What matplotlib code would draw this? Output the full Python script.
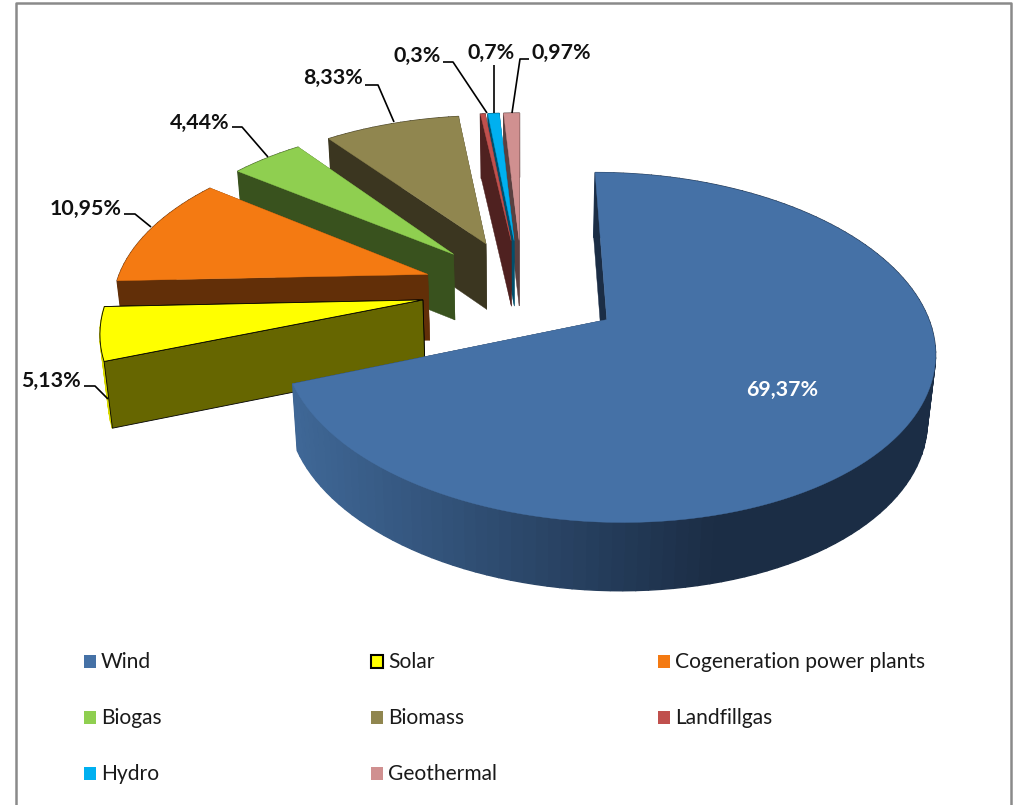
import numpy as np
import matplotlib as mpl
mpl.use('Agg')
import matplotlib.pyplot as plt
from matplotlib.patches import Polygon, Rectangle

categories = ['Wind', 'Solar', 'Cogeneration power plants', 'Biogas', 'Biomass',
              'Landfillgas', 'Hydro', 'Geothermal']
values = [69.37, 5.13, 10.95, 4.44, 8.33, 0.3, 0.7, 0.97]
value_labels = ['69,37%', '5,13%', '10,95%', '4,44%', '8,33%', '0,3%', '0,7%', '0,97%']

top_colors = ['#4571A6', '#FFFF00', '#F47A12', '#8FCF50', '#90864F', '#C0504D', '#00B0F0', '#D09090']
side_colors = ['#1B2D45', '#666600', '#622F08', '#39521E', '#3B3620', '#4F2120', '#004F6C', '#5A4040']
rim_colors = ['#1B2D45', '#D8D800', '#622F08', '#39521E', '#3B3620', '#4F2120', '#004F6C', '#5A4040']
wind_side_left = np.array(mpl.colors.to_rgb('#3F6796'))
wind_side_right = np.array(mpl.colors.to_rgb('#1B2D45'))

# pie geometry, in pixels of the 1013x805 picture
CX, CY = 522.0, 289.5
RX, RY = 313.0, 161.0
PERSP = 0.155
EXPLODE = 0.32
DEPTH = 66.0
BOTTOM_X = 0.98
BOTTOM_Y = 1.01


def project(u, v, bottom=False):
    w = 1.0 + PERSP * v
    x = RX * u / w
    y = -RY * v / w
    if bottom:
        return CX + BOTTOM_X * x, CY + BOTTOM_Y * y + DEPTH
    return CX + x, CY + y


def slice_points(a0, a1):
    # outline of a slice in disc coordinates, angles clockwise from 12 o'clock
    mid = 0.5 * (a0 + a1)
    ax, ay = EXPLODE * np.sin(mid), EXPLODE * np.cos(mid)
    t = np.linspace(a0, a1, max(int((a1 - a0) * 30), 3))
    return ax, ay, ax + np.sin(t), ay + np.cos(t), mid


def i_order(i):
    # painter order: small slices at the back first, wind last
    return 10 - i if i > 0 else 20


def draw_slice(ax, a0, a1, i):
    apex_u, apex_v, u, v, mid = slice_points(a0, a1)
    x, y = project(u, v)
    xb, yb = project(u, v, True)
    apx, apy = project(apex_u, apex_v)
    apxb, apyb = project(apex_u, apex_v, True)
    inx, iny = project(apex_u + 0.5 * np.sin(mid), apex_v + 0.5 * np.cos(mid))
    base = i_order(i)

    edge = 'black' if i == 1 else side_colors[i]
    lw = 0.6 if i == 1 else 0.3

    # the two cut faces; a face shows only if going down from its top edge leaves the slice
    for k in (0, -1):
        dx, dy = x[k] - apx, y[k] - apy
        inside = dx * (iny - apy) - dy * (inx - apx)
        visible = inside * dx < 0
        ax.add_patch(Polygon([(apx, apy), (x[k], y[k]), (xb[k], yb[k]), (apxb, apyb)],
                             fc=side_colors[i], ec=edge, lw=lw, zorder=base + (0.15 if visible else 0.0)))

    # outer rim as thin strips
    for j in range(len(x) - 1):
        if i == 0:
            t = np.clip((0.5 * (x[j] + x[j + 1]) - 295) / 420, 0, 1)
            col = wind_side_left + (wind_side_right - wind_side_left) * t
        else:
            col = rim_colors[i]
        ax.add_patch(Polygon([(x[j], y[j]), (x[j + 1], y[j + 1]), (xb[j + 1], yb[j + 1]), (xb[j], yb[j])],
                             fc=col, ec=col, lw=1.0, zorder=base + 0.1))
    # top
    pts = [(apx, apy)] + list(zip(x, y))
    ax.add_patch(Polygon(pts, fc=top_colors[i], ec='black' if i == 1 else top_colors[i], lw=lw,
                         zorder=base + 0.2))


fig = plt.figure(figsize=(10.13, 8.05), dpi=100)
ax = fig.add_axes([0, 0, 1, 1])
ax.set_xlim(0, 1013)
ax.set_ylim(805, 0)
ax.axis('off')

plt.rcParams['font.family'] = ['Lato', 'DejaVu Sans']

# chart frame, open at the bottom
ax.plot([15.5, 15.5, 1010.5, 1010.5], [805, 3.5, 3.5, 805], color='#8A8A8A', lw=1.8, zorder=1)

fractions = np.array(values) / np.sum(values)
edges = np.concatenate(([0], np.cumsum(fractions))) * 2 * np.pi
for i in range(len(values)):
    draw_slice(ax, edges[i], edges[i + 1], i)

# data labels and their leader lines
label_pos = [(782, 390), (51, 381), (86, 209), (200, 123), (333, 78), (417, 56), (491, 53), (561, 53)]
for i, (lx, ly) in enumerate(label_pos):
    ax.text(lx, ly, value_labels[i], ha='center', va='center', fontsize=15.4, fontweight='bold',
            color='white' if i == 0 else '#111111', zorder=40)

leaders = [
    [(84, 386), (95, 386), (108, 399)],
    [(124, 214), (135, 214), (151, 227)],
    [(232, 127), (242, 127), (268, 157)],
    [(365, 85), (378, 85), (394, 122)],
    [(443, 62), (453, 62), (487, 113)],
    [(494, 65), (494, 113)],
    [(529, 59), (520, 59), (512, 113)],
]
for line in leaders:
    ax.plot(*zip(*line), color='black', lw=1.2, zorder=30, solid_capstyle='butt')

# legend, three columns
col_x = [84, 371, 658]
row_y = [661, 717, 773]
for i, name in enumerate(categories):
    kx, ky = col_x[i % 3], row_y[i // 3]
    ax.add_patch(Rectangle((kx, ky - 6.5), 12, 13, fc=top_colors[i],
                           ec='black' if i == 1 else 'none', lw=1.5 if i == 1 else 0, zorder=30))
    ax.text(kx + 17, ky + 1, name, ha='left', va='center', fontsize=15.1, color='#1A1A1A', zorder=30)

fig.savefig('out.png', dpi=100)
plt.close(fig)
